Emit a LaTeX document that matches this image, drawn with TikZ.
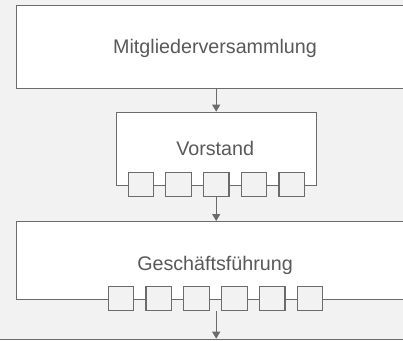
\documentclass[tikz,border=0pt]{standalone}
\usepackage{fontspec}
\setmainfont{Liberation Sans}
\usetikzlibrary{arrows.meta}
\definecolor{bg}{HTML}{F2F2F2}
\definecolor{ln}{HTML}{6B6B6B}
\definecolor{tx}{HTML}{595959}
\begin{document}
\begin{tikzpicture}[x=1pt,y=-1pt,
  box/.style={draw=ln,fill=white,line width=1.2pt,rectangle,inner sep=0pt,anchor=north west},
  sq/.style={draw=ln,fill=bg,line width=1.2pt,rectangle,minimum width=25.5pt,minimum height=24.5pt,inner sep=0pt},
  lbl/.style={text=tx,font=\fontsize{19.7}{22}\selectfont,inner sep=0pt,anchor=base},
  arr/.style={draw=ln,line width=1.2pt,-{Triangle[width=8pt,length=7pt]}}]
\fill[bg] (0,0) rectangle (403,340);
\useasboundingbox (0,0) rectangle (403,340);
\clip (0,0) rectangle (403,340);
% boxes
\node[box,minimum width=404pt,minimum height=83.5pt] (mv) at (16,4.5) {};
\node[box,minimum width=200pt,minimum height=73.3pt] (vs) at (115.7,111.7) {};
\node[box,minimum width=404pt,minimum height=77.7pt] (gf) at (16,221) {};
\node[box,minimum width=430pt,minimum height=60pt] (nx) at (-10,338.7) {};
% labels
\node[lbl] (tmv) at (215,53.3) {Mitgliederversammlung};
\node[lbl] (tvs) at (215.2,155.3) {Vorstand};
\node[lbl] (tgf) at (215,270) {Geschäftsführung};
% squares
\foreach \i/\x in {1/140.9,2/178.6,3/216.2,4/254,5/291.7}
  \node[sq] (v\i) at (\x,184.5) {};
\foreach \i/\x in {1/121,2/158.8,3/196.6,4/234.4,5/272.2,6/310}
  \node[sq] (g\i) at (\x,298.5) {};
% arrows
\draw[arr] (v3.north |- mv.south) -- (v3.north |- vs.north);
\draw[arr] (v3.south) -- (v3.south |- gf.north);
\coordinate (gout) at (v3.south |- g3.south);
\draw[arr] (gout) -- (gout |- nx.north);
\end{tikzpicture}
\end{document}
